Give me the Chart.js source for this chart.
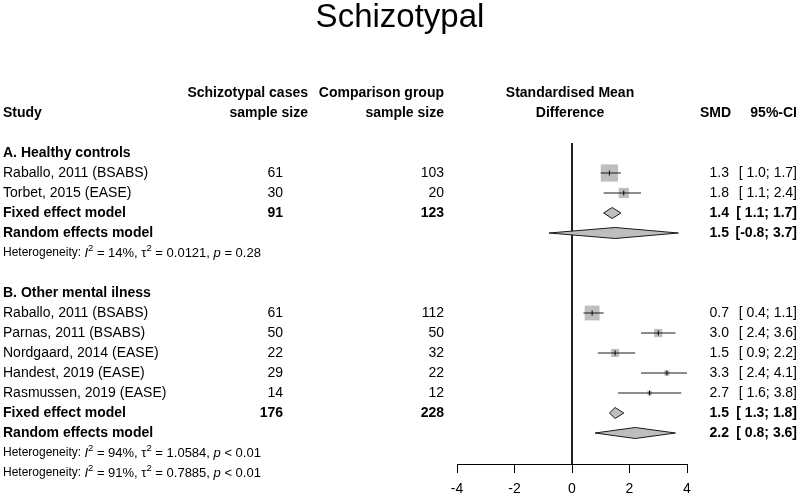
<!DOCTYPE html>
<html>
<head>
<meta charset="utf-8">
<title>Schizotypal</title>
<script src="https://cdn.jsdelivr.net/npm/chart.js@4.4.1/dist/chart.umd.min.js"></script>
<style>
  html, body { margin: 0; padding: 0; background: #fff; }
  #forest { display: block; }
</style>
</head>
<body>
<canvas id="forest" width="800" height="495"></canvas>
<script>
// ============================================================================
// Data
// ============================================================================

const groupLabels = ['A. Healthy controls', 'B. Other mental ilness'];

const studiesA = ['Raballo, 2011 (BSABS)', 'Torbet, 2015 (EASE)'];
const casesA = [61, 30];
const controlsA = [103, 20];
const smdA = [1.3, 1.8];
const lowerA = [1.0, 1.1];
const upperA = [1.7, 2.4];
const weightsA = [74, 26];

const studiesB = [
    'Raballo, 2011 (BSABS)',
    'Parnas, 2011 (BSABS)',
    'Nordgaard, 2014 (EASE)',
    'Handest, 2019 (EASE)',
    'Rasmussen, 2019 (EASE)',
];
const casesB = [61, 50, 22, 29, 14];
const controlsB = [112, 50, 32, 22, 12];
const smdB = [0.7, 3.0, 1.5, 3.3, 2.7];
const lowerB = [0.4, 2.4, 0.9, 2.4, 1.6];
const upperB = [1.1, 3.6, 2.2, 4.1, 3.8];
const weightsB = [55, 17, 16, 7, 5];

// pooled results, one entry per group
const totalCases = [91, 176];
const totalControls = [123, 228];
const fixedSmd = [1.4, 1.5];
const fixedLower = [1.1, 1.3];
const fixedUpper = [1.7, 1.8];
const randomSmd = [1.5, 2.2];
const randomLower = [-0.8, 0.8];
const randomUpper = [3.7, 3.6];

// heterogeneity: group A, group B, overall
const hetI2 = ['14%', '94%', '91%'];
const hetTau2 = ['0.0121', '1.0584', '0.7885'];
const hetP = ['= 0.28', '< 0.01', '< 0.01'];

const xTickValues = [-4, -2, 0, 2, 4];

// ============================================================================
// Styling
// ============================================================================

const FONT = "'Liberation Sans', Arial, Helvetica, sans-serif";
const SQUARE_COLOR = '#BEBEBE';
const DIAMOND_COLOR = '#BEBEBE';
const LINE_COLOR = '#1a1a1a';

const COL = {
    study: 3,
    casesHead: 308,
    cases: 283,
    controls: 444,
    effectHead: 570,
    smd: 729,
    smdHead: 731,
    ci: 797,
};

// ============================================================================
// Row layout
// ============================================================================

const groups = [
    { label: groupLabels[0], studies: studiesA, cases: casesA, controls: controlsA,
      smd: smdA, lower: lowerA, upper: upperA, weights: weightsA },
    { label: groupLabels[1], studies: studiesB, cases: casesB, controls: controlsB,
      smd: smdB, lower: lowerB, upper: upperB, weights: weightsB },
];

const rows = [];
let rowIdx = 3;
groups.forEach((g, gi) => {
    rows.push({ kind: 'group', r: rowIdx++, text: g.label });
    g.studies.forEach((name, i) => {
        rows.push({ kind: 'study', r: rowIdx++, name, n1: g.cases[i], n2: g.controls[i],
            smd: g.smd[i], lo: g.lower[i], hi: g.upper[i], w: g.weights[i] });
    });
    rows.push({ kind: 'fixed', r: rowIdx++, name: 'Fixed effect model', n1: totalCases[gi],
        n2: totalControls[gi], smd: fixedSmd[gi], lo: fixedLower[gi], hi: fixedUpper[gi] });
    rows.push({ kind: 'random', r: rowIdx++, name: 'Random effects model',
        smd: randomSmd[gi], lo: randomLower[gi], hi: randomUpper[gi] });
    rows.push({ kind: 'het', r: rowIdx++, h: gi });
    if (gi < groups.length - 1) rowIdx++;
});
rows.push({ kind: 'het', r: rowIdx, h: 2 });

const Y_MIN = 2.5;
const Y_MAX = rowIdx - 0.45;

const studyRows = rows.filter(d => d.kind === 'study');
const pooledRows = rows.filter(d => d.kind === 'fixed' || d.kind === 'random');

// ============================================================================
// Helpers
// ============================================================================

const boxSide = (w) => 20 * Math.sqrt(w / 100);

const fmt = (v) => v.toFixed(1);
const fmtCI = (lo, hi) => '[' + (lo < 0 ? '' : ' ') + fmt(lo) + '; ' + fmt(hi) + ']';

// draws a run of text pieces (italic / superscript) one after another
const drawRich = (ctx, x, y, parts) => {
    let cx = x;
    parts.forEach(p => {
        ctx.font = (p.it ? 'italic ' : '') + p.size + 'px ' + FONT;
        ctx.fillText(p.t, cx, p.sup ? y - 5 : y);
        cx += ctx.measureText(p.t).width;
    });
};

// ============================================================================
// Plugins
// ============================================================================

const diamondPlugin = {
    id: 'diamonds',
    afterDatasetsDraw(chart) {
        const { ctx, scales: { x, y } } = chart;
        ctx.save();
        pooledRows.forEach(d => {
            const py = y.getPixelForValue(d.r);
            const half = 5.5;
            ctx.beginPath();
            ctx.moveTo(x.getPixelForValue(d.lo), py);
            ctx.lineTo(x.getPixelForValue(d.smd), py - half);
            ctx.lineTo(x.getPixelForValue(d.hi), py);
            ctx.lineTo(x.getPixelForValue(d.smd), py + half);
            ctx.closePath();
            ctx.fillStyle = DIAMOND_COLOR;
            ctx.fill();
            ctx.lineWidth = 1;
            ctx.strokeStyle = LINE_COLOR;
            ctx.stroke();
        });
        ctx.restore();
    }
};

const tablePlugin = {
    id: 'forestTable',
    afterDraw(chart) {
        const { ctx, scales: { y } } = chart;
        const yy = (r) => y.getPixelForValue(r);
        const bold = (s) => 'bold ' + s + 'px ' + FONT;
        const norm = (s) => s + 'px ' + FONT;

        ctx.save();
        ctx.fillStyle = '#000';
        ctx.textBaseline = 'alphabetic';

        // title
        ctx.font = norm(33);
        ctx.textAlign = 'center';
        ctx.fillText('Schizotypal', 400, 27);

        ctx.textBaseline = 'middle';

        // column headers
        ctx.font = bold(14);
        ctx.textAlign = 'left';
        ctx.fillText('Study', COL.study, yy(1));
        ctx.textAlign = 'right';
        ctx.fillText('Schizotypal cases', COL.casesHead, yy(0));
        ctx.fillText('sample size', COL.casesHead, yy(1));
        ctx.fillText('Comparison group', COL.controls, yy(0));
        ctx.fillText('sample size', COL.controls, yy(1));
        ctx.textAlign = 'center';
        ctx.fillText('Standardised Mean', COL.effectHead, yy(0));
        ctx.fillText('Difference', COL.effectHead, yy(1));
        ctx.textAlign = 'right';
        ctx.fillText('SMD', COL.smdHead, yy(1));
        ctx.fillText('95%-CI', COL.ci, yy(1));

        rows.forEach(d => {
            const py = yy(d.r);
            if (d.kind === 'group') {
                ctx.font = bold(14);
                ctx.textAlign = 'left';
                ctx.fillText(d.text, COL.study, py);
            } else if (d.kind === 'het') {
                ctx.textAlign = 'left';
                drawRich(ctx, COL.study, py, [
                    { t: 'Heterogeneity: ', size: 12 },
                    { t: 'I', it: true, size: 13 },
                    { t: '2', sup: true, size: 9.5 },
                    { t: ' = ' + hetI2[d.h] + ', \u03c4', size: 13 },
                    { t: '2', sup: true, size: 9.5 },
                    { t: ' = ' + hetTau2[d.h] + ', ', size: 13 },
                    { t: 'p', it: true, size: 13 },
                    { t: ' ' + hetP[d.h], size: 13 },
                ]);
            } else {
                ctx.font = d.kind === 'study' ? norm(14) : bold(14);
                ctx.textAlign = 'left';
                ctx.fillText(d.name, COL.study, py);
                ctx.textAlign = 'right';
                if (d.n1 !== undefined) ctx.fillText(String(d.n1), COL.cases, py);
                if (d.n2 !== undefined) ctx.fillText(String(d.n2), COL.controls, py);
                ctx.fillText(fmt(d.smd), COL.smd, py);
                ctx.fillText(fmtCI(d.lo, d.hi), COL.ci, py);
            }
        });
        ctx.restore();
    }
};

// ============================================================================
// Chart
// ============================================================================

const ciSegments = [];
studyRows.forEach(d => {
    ciSegments.push({ x: d.lo, y: d.r }, { x: d.hi, y: d.r }, { x: d.hi, y: null });
});

new Chart(document.getElementById('forest'), {
    type: 'scatter',
    data: {
        datasets: [
            {
                label: 'no effect',
                data: [{ x: 0, y: Y_MIN }, { x: 0, y: Y_MAX }],
                showLine: true,
                borderColor: '#000',
                borderWidth: 1,
                pointRadius: 0,
                order: 10,
            },
            {
                label: 'weights',
                data: studyRows.map(d => ({ x: d.smd, y: d.r, w: d.w })),
                pointStyle: 'rect',
                pointRadius: (c) => c.raw ? boxSide(c.raw.w) / Math.SQRT2 : 0,
                backgroundColor: SQUARE_COLOR,
                borderWidth: 0,
                order: 3,
            },
            {
                label: 'confidence intervals',
                data: ciSegments,
                showLine: true,
                spanGaps: false,
                borderColor: LINE_COLOR,
                borderWidth: 1,
                pointRadius: 0,
                order: 2,
            },
            {
                label: 'estimates',
                data: studyRows.map(d => ({ x: d.smd, y: d.r })),
                pointStyle: 'line',
                rotation: 90,
                pointRadius: 2.5,
                borderColor: '#000',
                borderWidth: 1,
                order: 1,
            },
        ],
    },
    options: {
        responsive: false,
        animation: false,
        events: [],
        devicePixelRatio: 1,
        layout: { padding: { left: 457, right: 113, top: 143, bottom: 0 } },
        plugins: {
            legend: { display: false },
            tooltip: { enabled: false },
            title: { display: false },
        },
        scales: {
            x: {
                type: 'linear',
                min: -4,
                max: 4,
                afterBuildTicks: (axis) => { axis.ticks = xTickValues.map(v => ({ value: v })); },
                afterFit: (axis) => { axis.height = 31; },
                ticks: {
                    color: '#000',
                    font: { size: 14, family: FONT },
                    padding: 8,
                    maxRotation: 0,
                },
                grid: {
                    drawOnChartArea: false,
                    drawTicks: true,
                    tickLength: 9,
                    color: '#000',
                },
                border: { color: '#000', width: 1 },
            },
            y: {
                type: 'linear',
                display: false,
                reverse: true,
                min: Y_MIN,
                max: Y_MAX,
            },
        },
    },
    plugins: [diamondPlugin, tablePlugin],
});
</script>
</body>
</html>
